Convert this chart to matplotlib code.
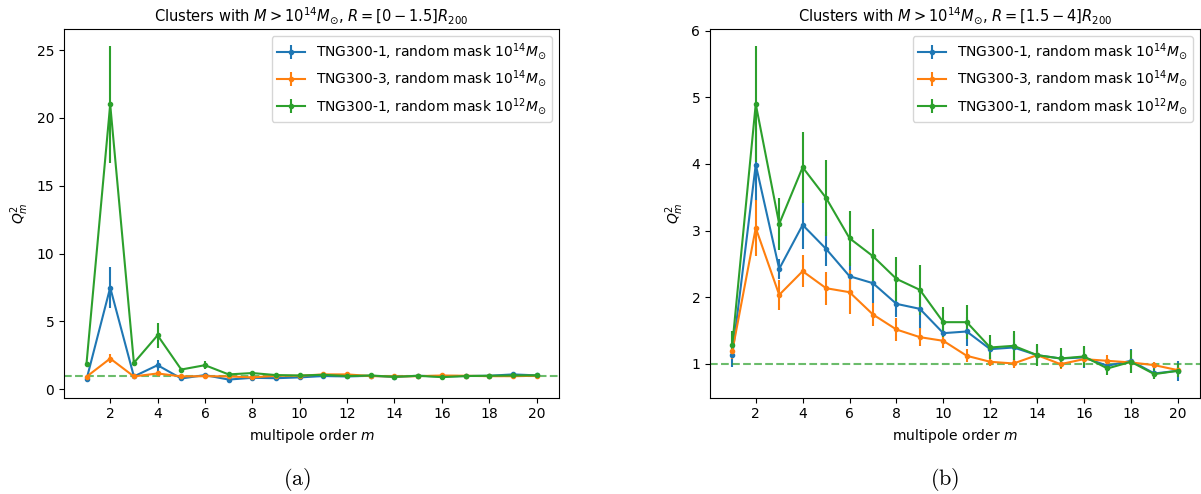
import numpy as np
import matplotlib.pyplot as plt

plt.rcParams['mathtext.fontset'] = 'dejavusans'

# multipole orders
m = np.arange(1, 21)

# panel (a): R = [0 - 1.5] R200
a_tng1 = [0.73, 7.5, 0.95, 1.78, 0.8, 1.05, 0.72, 0.85, 0.82, 0.88,
          0.98, 0.95, 1.0, 0.92, 1.0, 0.95, 0.98, 1.0, 1.1, 1.03]
a_tng1_err = [0.1, 1.5, 0.1, 0.4, 0.1, 0.15, 0.08, 0.08, 0.08, 0.08,
              0.08, 0.08, 0.08, 0.06, 0.06, 0.06, 0.06, 0.06, 0.08, 0.06]
a_tng3 = [0.93, 2.27, 0.95, 1.17, 0.95, 0.97, 0.95, 0.88, 1.0, 1.0,
          1.1, 1.1, 0.98, 0.95, 0.97, 1.02, 1.0, 0.97, 0.97, 1.0]
a_tng3_err = [0.1, 0.35, 0.08, 0.15, 0.08, 0.08, 0.06, 0.06, 0.06, 0.06,
              0.06, 0.06, 0.05, 0.05, 0.05, 0.05, 0.05, 0.05, 0.05, 0.05]
a_tng1_12 = [1.9, 21.0, 1.95, 3.98, 1.46, 1.78, 1.1, 1.2, 1.05, 1.02,
             1.07, 0.98, 1.02, 0.92, 1.0, 0.9, 0.98, 1.0, 1.02, 1.03]
a_tng1_12_err = [0.15, 4.3, 0.2, 0.9, 0.12, 0.3, 0.1, 0.1, 0.08, 0.08,
                 0.08, 0.08, 0.08, 0.06, 0.06, 0.06, 0.06, 0.06, 0.06, 0.06]

# panel (b): R = [1.5 - 4] R200
b_tng1 = [1.125, 3.99, 2.425, 3.085, 2.725, 2.315, 2.21, 1.9, 1.825, 1.46,
          1.485, 1.22, 1.245, 1.13, 1.08, 1.095, 0.97, 1.045, 0.855, 0.895]
b_tng1_err = [0.17, 0.55, 0.15, 0.36, 0.25, 0.2, 0.3, 0.2, 0.3, 0.15,
              0.22, 0.15, 0.2, 0.15, 0.13, 0.16, 0.1, 0.18, 0.08, 0.15]
b_tng3 = [1.19, 3.04, 2.035, 2.39, 2.135, 2.075, 1.74, 1.515, 1.4, 1.345,
          1.12, 1.03, 1.005, 1.13, 0.995, 1.07, 1.045, 1.02, 0.98, 0.905]
b_tng3_err = [0.12, 0.42, 0.22, 0.24, 0.25, 0.33, 0.17, 0.17, 0.13, 0.11,
              0.1, 0.07, 0.07, 0.07, 0.08, 0.06, 0.08, 0.07, 0.05, 0.05]
b_tng1_12 = [1.285, 4.9, 3.1, 3.95, 3.49, 2.885, 2.615, 2.275, 2.11, 1.625,
             1.625, 1.245, 1.27, 1.13, 1.08, 1.11, 0.93, 1.03, 0.845, 0.895]
b_tng1_12_err = [0.2, 0.87, 0.39, 0.53, 0.57, 0.41, 0.41, 0.33, 0.38, 0.23,
                 0.26, 0.18, 0.22, 0.17, 0.15, 0.16, 0.1, 0.17, 0.07, 0.1]

labels = [r'TNG300-1, random mask $10^{14}M_{\odot}$',
          r'TNG300-3, random mask $10^{14}M_{\odot}$',
          r'TNG300-1, random mask $10^{12}M_{\odot}$']
titles = [r'Clusters with $M>10^{14}M_{\odot}$, $R=[0-1.5]R_{200}$',
          r'Clusters with $M>10^{14}M_{\odot}$, $R=[1.5-4]R_{200}$']

fig = plt.figure(figsize=(12.01, 4.94), dpi=100)
ax1 = fig.add_axes([0.0533, 0.1953, 0.4122, 0.7453])
ax2 = fig.add_axes([0.5912, 0.1953, 0.408, 0.7453])

panels = [
    (ax1, [(a_tng1, a_tng1_err), (a_tng3, a_tng3_err), (a_tng1_12, a_tng1_12_err)]),
    (ax2, [(b_tng1, b_tng1_err), (b_tng3, b_tng3_err), (b_tng1_12, b_tng1_12_err)]),
]

for i, (ax, series) in enumerate(panels):
    for j, (vals, errs) in enumerate(series):
        ax.errorbar(m, vals, yerr=errs, marker='.', color='C%d' % j,
                    label=labels[j])
    ax.axhline(1, color='C2', ls='--', alpha=0.7)
    ax.set_xticks(np.arange(2, 21, 2))
    ax.set_xlabel('multipole order $m$')
    ax.set_ylabel('$Q_m^2$')
    ax.set_title(titles[i], fontsize=10.5)
    ax.legend(loc='upper right')

fig.text(0.2475, 0.018, r'$\mathrm{(a)}$', ha='center', fontsize=16,
         math_fontfamily='cm')
fig.text(0.787, 0.018, r'$\mathrm{(b)}$', ha='center', fontsize=16,
         math_fontfamily='cm')

fig.savefig('out.png', dpi=100)
